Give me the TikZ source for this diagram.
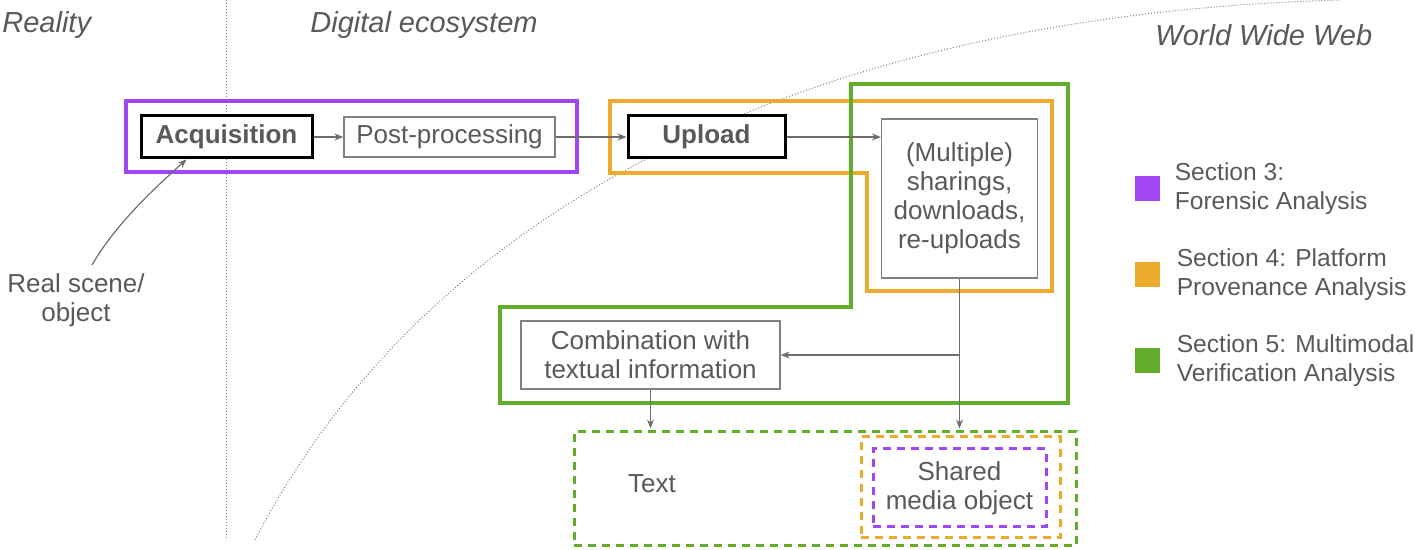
\documentclass[tikz,border=0pt]{standalone}
\usepackage{fontspec}
\setmainfont{Liberation Sans}
\usepackage{xcolor}
\usetikzlibrary{arrows.meta, positioning}

\definecolor{txtgray}{HTML}{595959}
\definecolor{boxgray}{HTML}{808080}
\definecolor{secpurple}{HTML}{A146F4}
\definecolor{secorange}{HTML}{EBAB2C}
\definecolor{secgreen}{HTML}{62AD2A}

\tikzset{
  stage/.style={draw=boxgray, fill=white, line width=0.6pt, inner sep=0pt, text=txtgray,
    font=\fontsize{13}{14.5}\selectfont, align=center},
  keystage/.style={stage, draw=black, line width=1.5pt, font=\fontsize{13}{14.5}\selectfont\bfseries},
  region/.style={line width=2pt},
  zone/.style={font=\fontsize{14.5}{17}\selectfont\itshape, text=txtgray, inner sep=0pt, anchor=base west},
  plain/.style={text=txtgray, font=\fontsize{13}{14.5}\selectfont, align=center, inner sep=0pt},
  flow/.style={-{Stealth[length=4.5pt,width=3.5pt]}, draw=boxgray!85!black, line width=0.6pt},
  share/.style={draw, dash pattern=on 4pt off 3pt, line width=1.5pt, inner sep=0pt},
  boundary/.style={draw=boxgray, line width=0.5pt, dash pattern=on 0.5pt off 1pt},
  legkey/.style={minimum size=12.5pt, inner sep=0pt},
  legtext/.style={font=\fontsize{12.3}{14.5}\selectfont, text=txtgray, align=left, inner sep=0pt, anchor=west}
}

\begin{document}
\begin{tikzpicture}[x=0.5pt, y=-0.5pt]
  \useasboundingbox (0,0) rectangle (1415,550);

  % Frontières entre les domaines
  \draw[boundary] (226,0) -- (226,540);
  \draw[boundary] (255,540) .. controls (425,212) and (800,15) .. (1340,0);

  % Titres des domaines
  \node[zone] (reality) at (2,33) {Reality};
  \node[zone] (digital) at (310,33) {Digital ecosystem};
  \node[zone] (www) at (1155,46) {World Wide Web};

  % Zones des sections
  \draw[region, secpurple] (126,101) rectangle (577,172);
  \draw[region, secorange] (610,101) -- (1052,101) -- (1052,291) -- (867,291) -- (867,173) -- (610,173) -- cycle;
  \draw[region, secgreen] (851,84) -- (1068,84) -- (1068,403) -- (500,403) -- (500,307) -- (851,307) -- cycle;

  % Étapes de la chaîne
  \node[keystage, minimum width=85.5pt, minimum height=21pt] (acq) at (226.5,137) {Acquisition};
  \node[stage, minimum width=105.5pt, minimum height=20pt] (post) at (449.5,137) {Post-processing};
  \node[keystage, minimum width=78.5pt, minimum height=21pt] (upload) at (706.5,137) {Upload};
  \node[stage, minimum width=78pt, minimum height=79.5pt] (multi) at (959.5,198.5) {(Multiple)\\sharings,\\downloads,\\re-uploads};
  \node[stage, minimum width=129.5pt, minimum height=34pt] (comb) at (650.5,355) {Combination with\\textual information};
  \node[plain] (real) at (76,300) {Real scene/\\object};

  % Objet partagé
  \node[share, draw=secgreen, minimum width=251pt, minimum height=57pt] (web) at (825,489) {};
  \node[share, draw=secorange, minimum width=99.5pt, minimum height=50.5pt] (prov) at (960.5,487.5) {};
  \node[share, draw=secpurple, minimum width=86.5pt, minimum height=39pt, plain] (media) at (959.5,488) {Shared\\media object};
  \node[plain] (txt) at (652,484) {Text};

  % Flèches
  \coordinate (branch) at (multi.south |- comb.east);
  \draw[flow] ([xshift=8pt,yshift=4pt]real.north) .. controls +(22,-38) and +(-36,32) .. ([xshift=23.5pt]acq.south west);
  \draw[flow] (acq) -- (post);
  \draw[flow] (post) -- (upload);
  \draw[flow] (upload) -- (upload.east -| multi.west);
  \draw[flow, shorten >=1pt] (multi.south) -- (multi.south |- web.north);
  \draw[flow] (branch) -- (comb.east);
  \draw[flow, shorten >=1pt] (comb.south) -- (comb.south |- web.north);

  % Légende
  \node[legkey, fill=secpurple] (key3) at (1147.5,189) {};
  \node[legtext, right=7pt of key3] (lab3) {Section 3:\\Forensic Analysis};
  \node[legkey, fill=secorange] (key4) at (1147.5,275) {};
  \node[legtext, right=8pt of key4] (lab4) {Section 4: Platform\\Provenance Analysis};
  \node[legkey, fill=secgreen] (key5) at (1147.5,360.5) {};
  \node[legtext, right=8pt of key5] (lab5) {Section 5: Multimodal\\Verification Analysis};
\end{tikzpicture}
\end{document}
